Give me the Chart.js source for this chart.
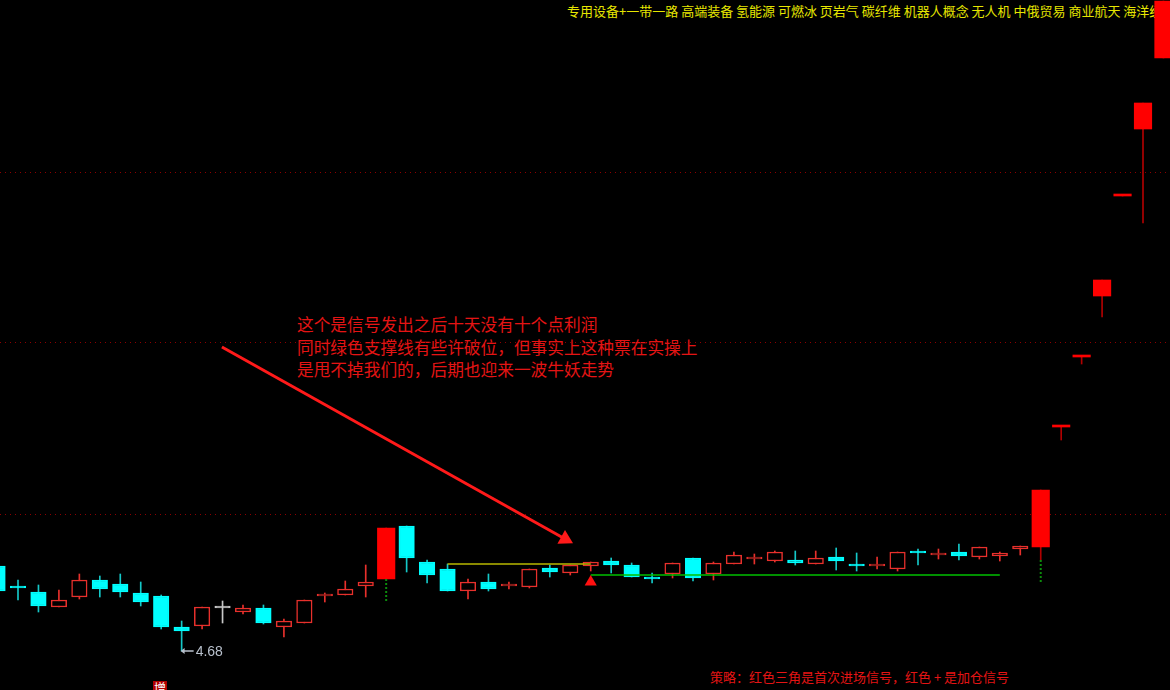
<!DOCTYPE html>
<html lang="zh-CN">
<head>
<meta charset="utf-8">
<title>K线</title>
<script src="https://cdn.jsdelivr.net/npm/chart.js@4.4.1/dist/chart.umd.min.js"></script>
<style>
html,body{margin:0;padding:0;background:#000;overflow:hidden;}
#wrap{position:relative;width:1170px;height:690px;overflow:hidden;background:#000;}
#c{position:absolute;left:0;top:0;z-index:2;}
.txt{position:absolute;white-space:pre;font-family:"Noto Sans CJK SC","Noto Sans",sans-serif;z-index:1;margin:0;}
#tags{left:567px;top:2px;font-size:13px;line-height:18px;color:#e6e600;}
#note{left:297px;top:313px;font-size:16.7px;line-height:22.5px;color:#e41414;}
#strategy{left:710px;top:668px;font-size:13px;line-height:18px;color:#e41414;}
#tag2{left:153px;top:681px;width:14px;height:14px;font-size:12px;line-height:14px;color:#fff;background:#b00000;text-align:center;}
</style>
</head>
<body>
<div id="wrap">
  <div class="txt" id="tags">专用设备+一带一路 高端装备 氢能源 可燃冰 页岩气 碳纤维 机器人概念 无人机 中俄贸易 商业航天 海洋经济</div>
  <div class="txt" id="note">这个是信号发出之后十天没有十个点利润
同时绿色支撑线有些许破位，但事实上这种票在实操上
是甩不掉我们的，后期也迎来一波牛妖走势</div>
  <div class="txt" id="strategy">策略：红色三角是首次进场信号，红色 + 是加仓信号</div>
  <div class="txt" id="tag2">增</div>
  <canvas id="c" width="1170" height="690"></canvas>
</div>
<script>
// ---- data (daily candles) ----
const opens  = [5.53,5.32,5.27,5.12,5.22,5.39,5.35,5.26,5.23,4.92,4.93,5.11,5.07,5.11,4.92,4.96,5.23,5.24,5.33,5.40,5.93,5.57,5.50,5.28,5.37,5.33,5.32,5.51,5.46,5.53,5.58,5.54,5.42,5.45,5.61,5.45,5.55,5.60,5.58,5.59,5.55,5.62,5.55,5.53,5.50,5.67,5.64,5.67,5.62,5.63,5.70,5.72,6.92,7.62,8.23,9.23,9.90,10.61];
const highs  = [5.53,5.39,5.34,5.29,5.45,5.43,5.45,5.37,5.24,4.98,5.12,5.18,5.14,5.14,5.00,5.19,5.26,5.38,5.54,5.91,5.93,5.59,5.55,5.40,5.45,5.37,5.50,5.54,5.54,5.57,5.61,5.56,5.46,5.56,5.61,5.57,5.67,5.65,5.68,5.68,5.68,5.71,5.66,5.62,5.67,5.70,5.70,5.75,5.72,5.67,5.73,6.29,6.92,7.62,8.39,9.23,10.16,11.18];
const lows   = [5.28,5.19,5.07,5.12,5.20,5.22,5.22,5.13,4.90,4.68,4.90,4.96,5.05,4.95,4.82,4.96,5.17,5.24,5.22,5.40,5.47,5.36,5.28,5.20,5.28,5.30,5.31,5.42,5.44,5.48,5.46,5.42,5.36,5.41,5.38,5.39,5.55,5.55,5.57,5.54,5.55,5.49,5.48,5.50,5.48,5.54,5.60,5.59,5.60,5.58,5.64,5.59,6.79,7.55,8.02,9.23,8.96,10.61];
const closes = [5.28,5.31,5.13,5.19,5.39,5.30,5.27,5.17,4.92,4.88,5.12,5.11,5.11,4.96,4.98,5.19,5.25,5.30,5.37,5.91,5.61,5.44,5.28,5.37,5.30,5.35,5.50,5.47,5.54,5.57,5.54,5.42,5.40,5.56,5.41,5.56,5.64,5.62,5.67,5.56,5.61,5.58,5.53,5.55,5.67,5.66,5.66,5.63,5.72,5.66,5.73,6.29,6.92,7.62,8.39,9.23,10.16,11.18];

// dotted green drops under signal candles
const signalDays   = [19, 51];
const signalTop    = [5.40, 5.59];
const signalBottom = [5.18, 5.36];

// support lines
const yellowDays = [22, 29];
const yellowLevel = 5.55;
const greenDays = [29, 49];
const greenLevel = 5.44;

// first-entry red triangle
const entryDay = 29;
const entryPrice = 5.37;

// annotation arrow (day, price)
const arrowFrom = [10.97, 7.72];
const arrowTo   = [27.75, 5.80];

// dotted price levels
const gridLevels = [6.05, 7.76, 9.46];

// ---- derived ----
const dayIndex = opens.map((_, i) => i);
const limitUp = dayIndex.map(i => i > 0 && closes[i] >= closes[i - 1] * 1.095);
const lowDay = lows.indexOf(Math.min(...lows));

const RED = '#ff0000', HOLLOW = '#e8302c', CYAN = '#00ffff', CYAN_WICK = '#14c8c8', GRAY = '#c8c8c8', DARKRED = '#b00000';

function lineColor(i) {
  if (limitUp[i]) return RED;
  if (closes[i] > opens[i]) return HOLLOW;
  if (closes[i] < opens[i]) return CYAN;
  return GRAY;
}
function fillColor(i) {
  if (limitUp[i]) return RED;
  if (closes[i] > opens[i]) return '#000000';
  if (closes[i] < opens[i]) return CYAN;
  return GRAY;
}
function wickColor(i) {
  if (limitUp[i]) return DARKRED;
  if (closes[i] > opens[i]) return HOLLOW;
  if (closes[i] < opens[i]) return CYAN_WICK;
  return GRAY;
}

const normalDays = dayIndex.filter(i => !limitUp[i]);
const limitDays = dayIndex.filter(i => limitUp[i]);

const barCommon = { type: 'bar', grouped: false, barPercentage: 1, categoryPercentage: 1, borderSkipped: false };

const datasets = [
  Object.assign({}, barCommon, {
    label: 'wick', order: 5, maxBarThickness: 1,
    data: dayIndex.map(i => ({ x: i, y: [lows[i], highs[i]] })),
    backgroundColor: dayIndex.map(wickColor), borderWidth: 0
  }),
  Object.assign({}, barCommon, {
    label: 'body', order: 4, maxBarThickness: 15.5, minBarLength: 2,
    data: normalDays.map(i => ({ x: i, y: [opens[i], closes[i]] })),
    backgroundColor: normalDays.map(fillColor), borderColor: normalDays.map(lineColor), borderWidth: 1.5
  }),
  Object.assign({}, barCommon, {
    label: 'limitBody', order: 4, maxBarThickness: 17.5, minBarLength: 2,
    data: limitDays.map(i => ({ x: i, y: [opens[i], closes[i]] })),
    backgroundColor: RED, borderColor: RED, borderWidth: 0
  })
];

signalDays.forEach((d, k) => {
  datasets.push({
    type: 'line', label: 'signal' + k, order: 3,
    data: [{ x: d, y: signalTop[k] }, { x: d, y: signalBottom[k] }],
    borderColor: '#0c8c0c', borderWidth: 2, borderDash: [2, 2], pointRadius: 0
  });
});

datasets.push({
  type: 'line', label: 'yellow', order: 2,
  data: yellowDays.map(d => ({ x: d, y: yellowLevel })),
  borderColor: '#b8b800', borderWidth: 1.5, pointRadius: 0
});
datasets.push({
  type: 'line', label: 'green', order: 2,
  data: greenDays.map(d => ({ x: d, y: greenLevel })),
  borderColor: '#00c000', borderWidth: 1.5, pointRadius: 0
});
datasets.push({
  type: 'line', label: 'entry', order: 1, showLine: false,
  data: [{ x: entryDay, y: entryPrice }],
  pointStyle: 'triangle', pointRadius: 7, backgroundColor: '#ff1010', borderWidth: 0
});
datasets.push({
  type: 'line', label: 'arrow', order: 1,
  data: [{ x: arrowFrom[0], y: arrowFrom[1] }, { x: arrowTo[0], y: arrowTo[1] }],
  borderColor: '#ff1a1a', borderWidth: 3, pointRadius: 0
});
datasets.push({
  type: 'line', label: 'arrowHead', order: 0, showLine: false,
  data: [{ x: arrowTo[0], y: arrowTo[1] }],
  pointStyle: 'triangle', pointRadius: 9, pointRotation: 119, backgroundColor: '#ff1a1a', borderWidth: 0
});

const lowLabelPlugin = {
  id: 'lowLabel',
  afterDatasetsDraw(chart) {
    const { ctx, scales: { x, y } } = chart;
    const px = x.getPixelForValue(lowDay);
    const py = y.getPixelForValue(lows[lowDay]);
    ctx.save();
    ctx.strokeStyle = '#b8c0cc';
    ctx.fillStyle = '#b8c0cc';
    ctx.lineWidth = 1.5;
    ctx.beginPath(); ctx.moveTo(px + 1, py); ctx.lineTo(px + 12, py); ctx.stroke();
    ctx.beginPath(); ctx.moveTo(px - 1, py); ctx.lineTo(px + 3, py - 3); ctx.lineTo(px + 3, py + 3); ctx.closePath(); ctx.fill();
    ctx.font = '14px "Liberation Sans", Arial, sans-serif';
    ctx.textBaseline = 'middle';
    ctx.fillText(lows[lowDay].toFixed(2), px + 14, py + 1);
    ctx.restore();
  }
};

new Chart(document.getElementById('c'), {
  type: 'bar',
  data: { datasets },
  options: {
    responsive: false,
    animation: false,
    events: [],
    layout: { padding: 0, autoPadding: false },
    plugins: { legend: { display: false }, tooltip: { enabled: false }, title: { display: false } },
    scales: {
      x: { type: 'linear', min: 0.12, max: 57.32, offset: false, display: false },
      y: {
        type: 'linear', min: 4.29, max: 11.19, display: true, position: 'left',
        afterBuildTicks: s => { s.ticks = gridLevels.map(v => ({ value: v })); },
        ticks: { display: false },
        grid: { color: '#8c0000', lineWidth: 1, drawTicks: false },
        border: { display: false, dash: [1, 4] }
      }
    }
  },
  plugins: [lowLabelPlugin]
});
</script>
</body>
</html>
